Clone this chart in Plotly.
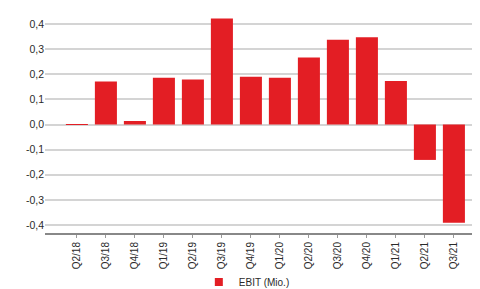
import plotly.graph_objects as go

categories = ["Q2/18", "Q3/18", "Q4/18", "Q1/19", "Q2/19", "Q3/19", "Q4/19",
              "Q1/20", "Q2/20", "Q3/20", "Q4/20", "Q1/21", "Q2/21", "Q3/21"]
ebit = [0.002, 0.171, 0.014, 0.186, 0.179, 0.422, 0.190,
        0.186, 0.267, 0.337, 0.347, 0.173, -0.141, -0.391]
y_tickvals = [-0.4, -0.3, -0.2, -0.1, 0.0, 0.1, 0.2, 0.3, 0.4]
y_ticktext = ["-0,4", "-0,3", "-0,2", "-0,1", "0,0", "0,1", "0,2", "0,3", "0,4"]
series_name = "EBIT (Mio.)"
bar_color = "#e31e24"

fig = go.Figure()
fig.add_trace(go.Bar(
    x=categories, y=ebit, name=series_name, showlegend=False,
    marker=dict(color=bar_color, line=dict(width=0)),
    width=0.76,
))
fig.add_trace(go.Scatter(
    x=[None], y=[None], mode="markers", name=series_name,
    marker=dict(symbol="square", size=8, color=bar_color),
))

# page body has an 8px margin; figure sized to fill the rest of the 480x289 window
fig.update_layout(
    width=472, height=281,
    margin=dict(l=37, r=0, t=6, b=56, autoexpand=False),
    paper_bgcolor="white", plot_bgcolor="white",
    font=dict(family="Liberation Sans, Arial, sans-serif", size=10, color="#2a2a2a"),
    showlegend=True,
    legend=dict(orientation="h", x=0.506, xanchor="center", xref="container",
                y=0.025, yanchor="middle", yref="container",
                font=dict(size=10, color="#2a2a2a"), itemwidth=30,
                bgcolor="rgba(0,0,0,0)"),
    bargap=0.24,
)
fig.update_xaxes(
    type="category", range=[-1.1, 13.9], tickangle=-90, automargin=False,
    showline=True, linecolor="#888888", linewidth=2,
    ticks="outside", ticklen=3, tickcolor="#999999",
    showgrid=False, tickfont=dict(size=10, color="#2a2a2a"),
)
fig.update_yaxes(
    range=[-0.432, 0.44], tickvals=y_tickvals, ticktext=y_ticktext, automargin=False,
    showgrid=True, gridcolor="#d4d4d4", gridwidth=1.5,
    zeroline=True, zerolinecolor="#d4d4d4", zerolinewidth=1.5,
    showline=False, ticks="", tickfont=dict(size=10.5, color="#2a2a2a"),
)

fig.write_html("out.html")
